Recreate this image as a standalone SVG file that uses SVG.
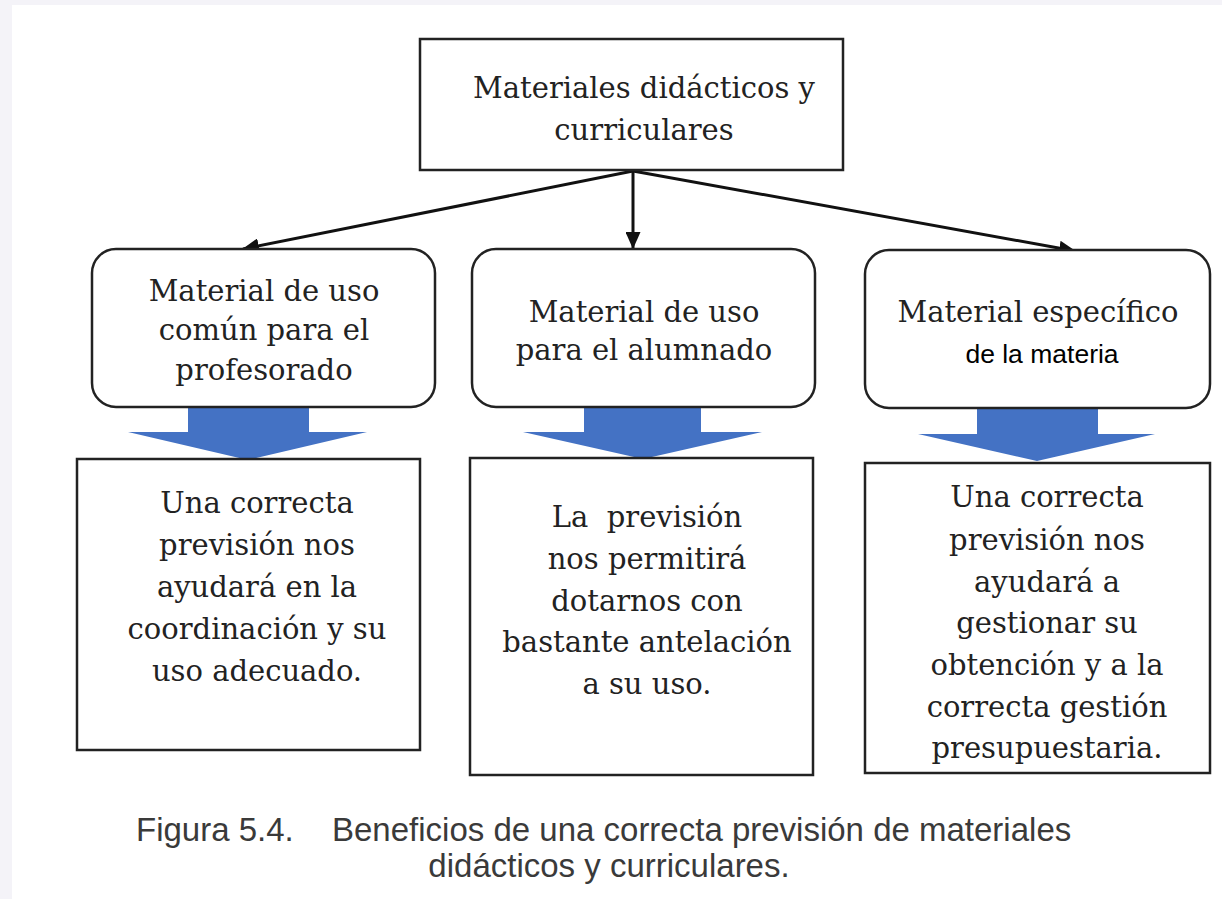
<svg xmlns="http://www.w3.org/2000/svg" width="1222" height="899" viewBox="0 0 1222 899">
<defs>
<style>
.box{fill:#ffffff;stroke:#222222;stroke-width:2.5}
.t{font-family:"DejaVu Serif","Liberation Serif",serif;font-size:29px;fill:#222222;text-anchor:middle}
.s{font-family:"Liberation Sans","Open Sans",sans-serif;font-size:26.5px;fill:#000000;text-anchor:middle}
.cap{font-family:"Liberation Sans",Arial,sans-serif;font-size:33px;fill:#3a3a3a}
.conn{stroke:#111111;stroke-width:3;fill:none}
.blue{fill:#4472c4}
</style>
<marker id="ah" markerUnits="userSpaceOnUse" markerWidth="17" markerHeight="15" refX="16" refY="7.5" orient="auto">
<path d="M0,0 L17,7.5 L0,15 Z" fill="#111111"/>
</marker>
</defs>
<rect x="0" y="0" width="1222" height="899" fill="#f4f3f8"/>
<rect x="12" y="5" width="1210" height="894" fill="#ffffff"/>

<g id="connectors">
<line class="conn" x1="633" y1="171" x2="243" y2="249" marker-end="url(#ah)"/>
<line class="conn" x1="633" y1="171" x2="633" y2="248" marker-end="url(#ah)"/>
<line class="conn" x1="633" y1="171" x2="1075" y2="251" marker-end="url(#ah)"/>
<polygon class="blue" points="188,407 309,407 309,432 367,432 248,460 128,432 188,432"/>
<polygon class="blue" points="584,407 701,407 701,432 762,432 643,459 523,432 584,432"/>
<polygon class="blue" points="977,408 1098,408 1098,434 1155,434 1037,461 918,434 977,434"/>
</g>

<g id="root">
<rect class="box" x="420" y="39" width="423" height="131"/>
<text class="t" x="644" y="98">Materiales didácticos y</text>
<text class="t" x="644" y="140">curriculares</text>
</g>

<g id="n1">
<rect class="box" x="92" y="249" width="343" height="158" rx="24"/>
<text class="t" x="264" y="301">Material de uso</text>
<text class="t" x="264" y="340">común para el</text>
<text class="t" x="264" y="380">profesorado</text>
</g>

<g id="n2">
<rect class="box" x="472" y="249" width="343" height="158" rx="24"/>
<text class="t" x="644" y="322">Material de uso</text>
<text class="t" x="644" y="360">para el alumnado</text>
</g>

<g id="n3">
<rect class="box" x="865" y="250" width="345" height="158" rx="24"/>
<text class="t" x="1038" y="322">Material específico</text>
<text class="s" x="1042" y="363">de la materia</text>
</g>

<g id="b1">
<rect class="box" x="77" y="459" width="343" height="291"/>
<text class="t" x="257" y="513">Una correcta</text>
<text class="t" x="257" y="555">previsión nos</text>
<text class="t" x="257" y="597">ayudará en la</text>
<text class="t" x="257" y="639">coordinación y su</text>
<text class="t" x="257" y="681">uso adecuado.</text>
</g>

<g id="b2">
<rect class="box" x="470" y="458" width="343" height="317"/>
<text class="t" x="647" y="527" xml:space="preserve">La  previsión</text>
<text class="t" x="647" y="569">nos permitirá</text>
<text class="t" x="647" y="611">dotarnos con</text>
<text class="t" x="647" y="652">bastante antelación</text>
<text class="t" x="647" y="694">a su uso.</text>
</g>

<g id="b3">
<rect class="box" x="865" y="463" width="345" height="310"/>
<text class="t" x="1047" y="507">Una correcta</text>
<text class="t" x="1047" y="550">previsión nos</text>
<text class="t" x="1047" y="592">ayudará a</text>
<text class="t" x="1047" y="633">gestionar su</text>
<text class="t" x="1047" y="675">obtención y a la</text>
<text class="t" x="1047" y="717">correcta gestión</text>
<text class="t" x="1047" y="758">presupuestaria.</text>
</g>

<g id="caption">
<text class="cap" x="136" y="841">Figura 5.4.</text>
<text class="cap" x="332" y="841">Beneficios de una correcta previsión de materiales</text>
<text class="cap" x="609" y="877" text-anchor="middle">didácticos y curriculares.</text>
</g>
</svg>
